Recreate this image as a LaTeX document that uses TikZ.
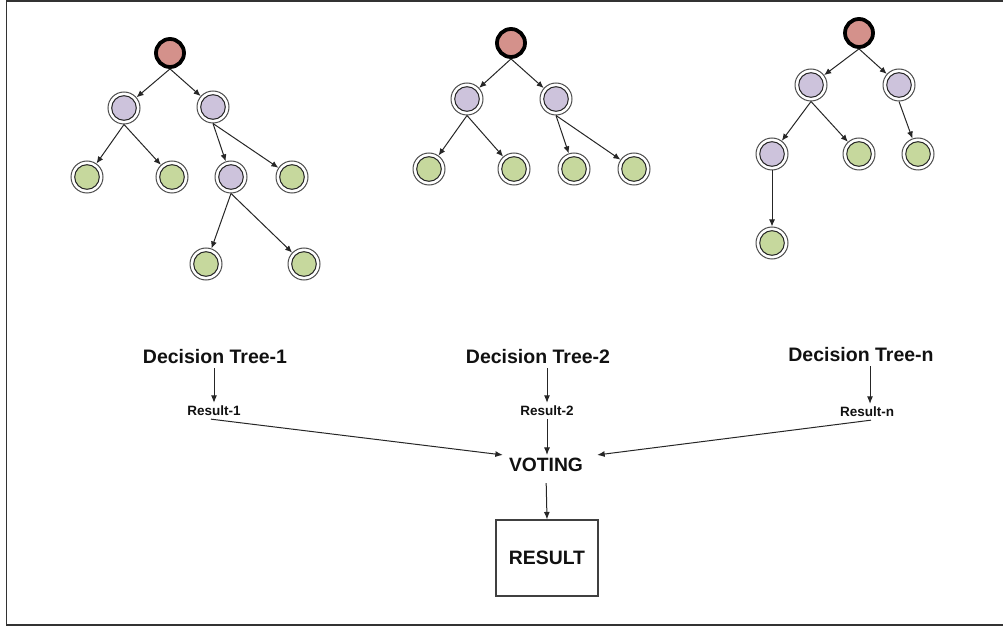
\documentclass[tikz,border=0pt]{standalone}
\usepackage{fontspec}
\setmainfont{Liberation Sans}
\usetikzlibrary{arrows.meta}
\definecolor{rootred}{HTML}{D4918B}
\definecolor{splitlav}{HTML}{CDC3DC}
\definecolor{leafgreen}{HTML}{C6D89D}
\definecolor{inkdark}{HTML}{111111}
\begin{document}
\begin{tikzpicture}[x=1pt,y=-1pt,
  rootnode/.style={circle, draw=black, line width=3.8pt, fill=rootred,
    minimum size=28pt, inner sep=0pt},
  ringnode/.style={circle, draw=black!70, line width=1pt, fill=white,
    minimum size=32pt, inner sep=0pt,
    path picture={\draw[line width=1pt, draw=black!85, fill=#1]
      (path picture bounding box.center) circle (12.3pt);}},
  splitnode/.style={ringnode=splitlav},
  leafnode/.style={ringnode=leafgreen},
  treearr/.style={draw=black!85, line width=1pt,
    -{Latex[length=7pt,width=6pt]}},
  flowarr/.style={draw=black!85, line width=1pt,
    -{Latex[length=7.5pt,width=6pt]}},
  biglabel/.style={font=\bfseries\fontsize{19.5}{22}\selectfont, text=inkdark,
    inner xsep=2pt, inner ysep=4pt},
  smalllabel/.style={font=\bfseries\fontsize{13.5}{16}\selectfont, text=inkdark,
    inner xsep=2pt, inner ysep=3pt},
]
\useasboundingbox (0,0) rectangle (1003,628);
% outer frame
\draw[line width=1.8pt, black!80] (6.5,0.8) -- (1012,0.8) -- (1012,625) -- (6.5,625) -- cycle;

% ---------- tree 1 ----------
\node[rootnode]  (r1) at (170,53) {};
\node[splitnode] (a1) at (124,108) {};
\node[splitnode] (b1) at (213,107) {};
\node[leafnode]  (c1) at (87,177) {};
\node[leafnode]  (d1) at (172,177) {};
\node[splitnode] (e1) at (231,177) {};
\node[leafnode]  (f1) at (292,177) {};
\node[leafnode]  (g1) at (206,264) {};
\node[leafnode]  (h1) at (304,264) {};
\draw[treearr] (r1.south) -- (a1);
\draw[treearr] (r1.south) -- (b1);
\draw[treearr] (a1.south) -- (c1);
\draw[treearr] (a1.south) -- (d1);
\draw[treearr] (b1.south) -- (e1);
\draw[treearr] (b1.south) -- (f1);
\draw[treearr] (e1.south) -- (g1);
\draw[treearr] (e1.south) -- (h1);

% ---------- tree 2 ----------
\node[rootnode]  (r2) at (511,43) {};
\node[splitnode] (a2) at (467,99) {};
\node[splitnode] (b2) at (556,99) {};
\node[leafnode]  (c2) at (429,169) {};
\node[leafnode]  (d2) at (514,169) {};
\node[leafnode]  (e2) at (574,169) {};
\node[leafnode]  (f2) at (634,169) {};
\draw[treearr] (r2.south) -- (a2);
\draw[treearr] (r2.south) -- (b2);
\draw[treearr] (a2.south) -- (c2);
\draw[treearr] (a2.south) -- (d2);
\draw[treearr] (b2.south) -- (e2);
\draw[treearr] (b2.south) -- (f2);

% ---------- tree n ----------
\node[rootnode]  (r3) at (859,33) {};
\node[splitnode] (a3) at (811,85) {};
\node[splitnode] (b3) at (899,85) {};
\node[splitnode] (c3) at (772,154) {};
\node[leafnode]  (d3) at (859,154) {};
\node[leafnode]  (e3) at (918,154) {};
\node[leafnode]  (g3) at (772,243) {};
\draw[treearr] (r3.south) -- (a3);
\draw[treearr] (r3.south) -- (b3);
\draw[treearr] (a3.south) -- (c3);
\draw[treearr] (a3.south) -- (d3);
\draw[treearr] (b3.south) -- (e3);
\draw[treearr] (c3.south) -- (g3);

% ---------- voting flow ----------
\node[biglabel] (dt1) at (215,357) {Decision Tree-1};
\node[biglabel] (dt2) at (538,357) {Decision Tree-2};
\node[biglabel] (dtn) at (861,355) {Decision Tree-n};
\node[smalllabel] (res1) at (214,411) {Result-1};
\node[smalllabel] (res2) at (547,411) {Result-2};
\node[smalllabel] (resn) at (867,412) {Result-n};
\node[font=\bfseries\fontsize{19.3}{22}\selectfont, text=inkdark,
      inner xsep=6pt, inner ysep=3pt] (vote) at (546,465) {VOTING};
\node[draw=black!75, line width=1.1pt, minimum width=102pt, minimum height=76pt,
      font=\bfseries\fontsize{19.4}{22}\selectfont, text=inkdark] (final) at (547,558) {RESULT};

\coordinate (dt1foot) at (res1.north |- dt1.south);
\coordinate (dtnfoot) at ([xshift=3pt]resn.north |- dtn.south);
\draw[flowarr] (dt1foot) -- (res1.north);
\draw[flowarr] (dt2.south -| res2.north) -- (res2.north);
\draw[flowarr] (dtnfoot) -- ([xshift=3pt]resn.north);
\draw[flowarr] ([xshift=-3pt]res1.south) -- (vote.north west);
\draw[flowarr] (res2.south) -- (res2.south |- vote.north);
\draw[flowarr] ([xshift=4pt]resn.south) -- ([xshift=8pt]vote.north east);
\draw[flowarr, shorten <=8pt] (vote.south) -- (final.north);
\end{tikzpicture}
\end{document}
